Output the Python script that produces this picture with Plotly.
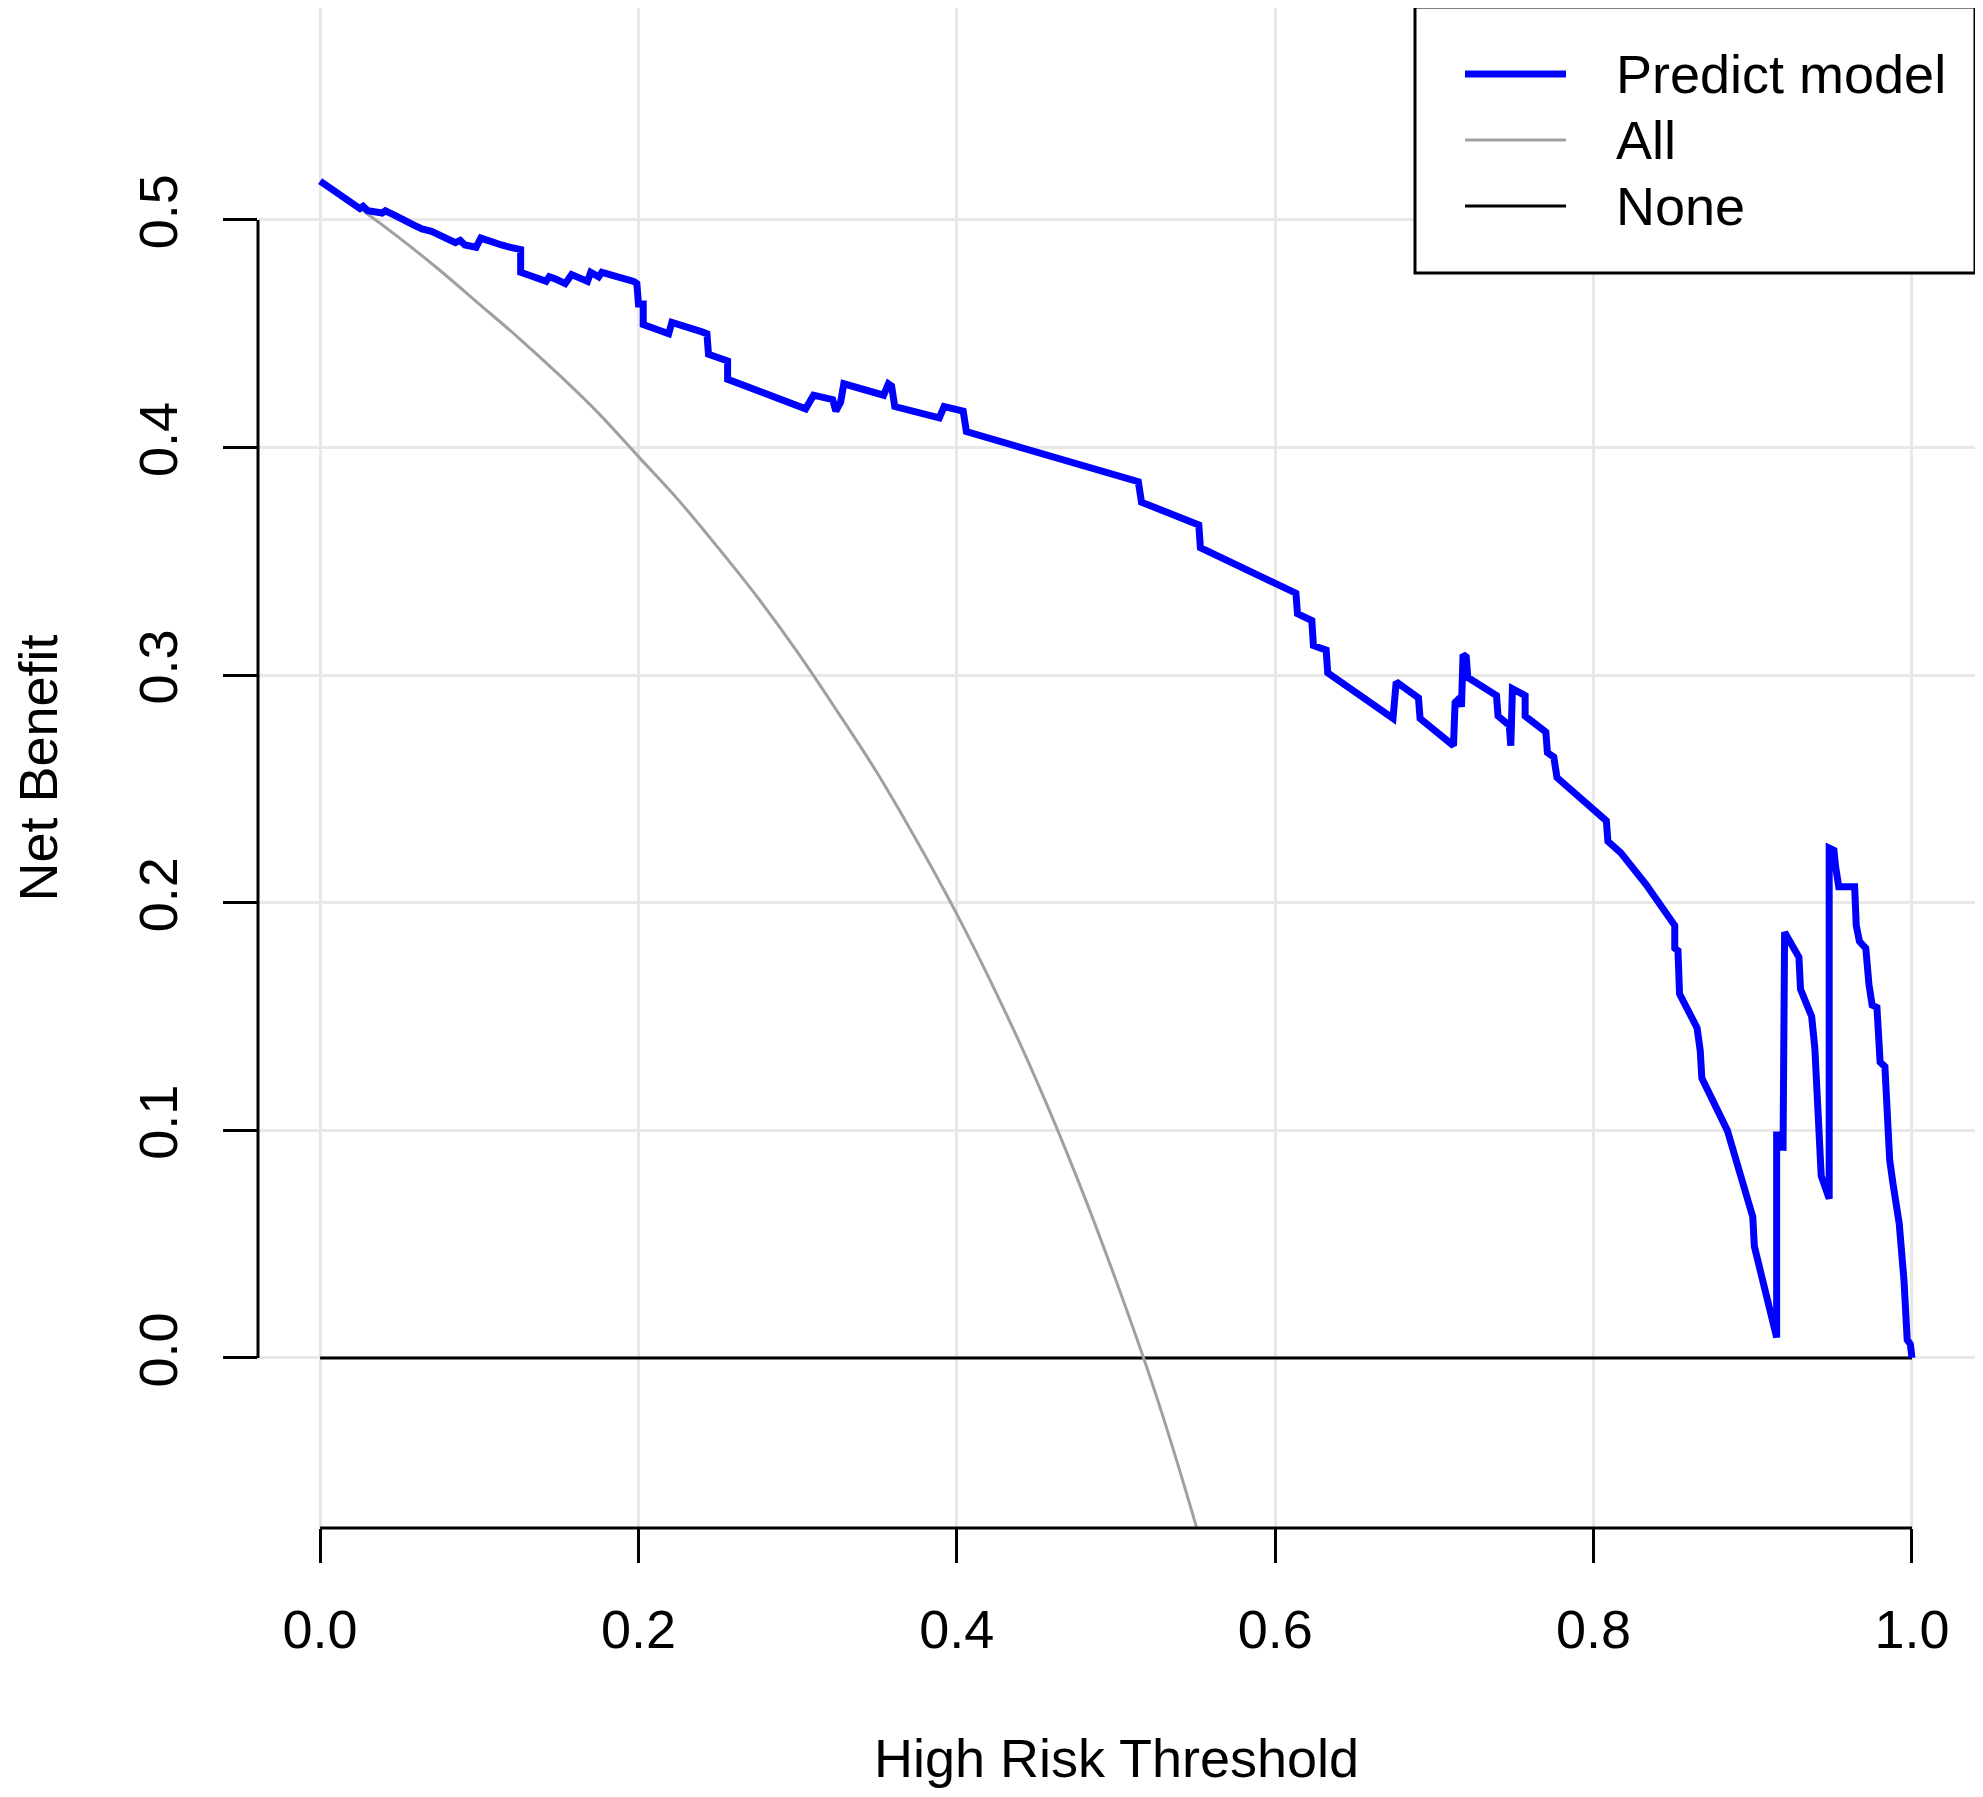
import plotly.graph_objects as go


# ==================================================
# 1. data
# ==================================================

model_threshold = [
    0.000, 0.025, 0.027, 0.030, 0.039, 0.041, 0.047, 0.058, 0.064, 0.070,
    0.085, 0.088, 0.091, 0.098, 0.101, 0.114, 0.119, 0.126, 0.126, 0.134,
    0.142, 0.144, 0.148, 0.154, 0.158, 0.168, 0.170, 0.175, 0.177, 0.197,
    0.199, 0.200, 0.203, 0.203, 0.219, 0.221, 0.239, 0.243, 0.244, 0.256,
    0.256, 0.305, 0.310, 0.322, 0.324, 0.327, 0.329, 0.354, 0.357, 0.359,
    0.361, 0.389, 0.392, 0.404, 0.406, 0.514, 0.516, 0.552, 0.553, 0.613,
    0.614, 0.623, 0.624, 0.632, 0.633, 0.674, 0.676, 0.690, 0.691, 0.712,
    0.713, 0.716, 0.717, 0.718, 0.720, 0.721, 0.739, 0.740, 0.747, 0.748,
    0.749, 0.757, 0.757, 0.770, 0.771, 0.775, 0.777, 0.808, 0.809, 0.817,
    0.833, 0.851, 0.851, 0.853, 0.854, 0.865, 0.867, 0.868, 0.884, 0.900,
    0.901, 0.915, 0.915, 0.915, 0.919, 0.919, 0.920, 0.929, 0.930, 0.937,
    0.939, 0.943, 0.948, 0.948, 0.951, 0.952, 0.954, 0.964, 0.965, 0.967,
    0.971, 0.973, 0.975, 0.978, 0.980, 0.983, 0.986, 0.988, 0.992, 0.995,
    0.997, 0.999, 1.000,
]
model_net_benefit = [
    0.517, 0.505, 0.506, 0.504, 0.503, 0.504, 0.502, 0.498, 0.496, 0.495,
    0.490, 0.491, 0.489, 0.488, 0.492, 0.489, 0.488, 0.487, 0.477, 0.475,
    0.473, 0.475, 0.474, 0.472, 0.476, 0.473, 0.477, 0.475, 0.477, 0.473,
    0.472, 0.463, 0.463, 0.454, 0.450, 0.455, 0.451, 0.450, 0.441, 0.438,
    0.430, 0.417, 0.423, 0.421, 0.416, 0.420, 0.428, 0.423, 0.428, 0.427,
    0.418, 0.413, 0.418, 0.416, 0.407, 0.385, 0.376, 0.366, 0.356, 0.336,
    0.327, 0.324, 0.313, 0.311, 0.301, 0.281, 0.297, 0.290, 0.281, 0.269,
    0.288, 0.290, 0.286, 0.309, 0.308, 0.299, 0.291, 0.282, 0.278, 0.269,
    0.294, 0.291, 0.282, 0.275, 0.266, 0.264, 0.255, 0.236, 0.227, 0.222,
    0.208, 0.190, 0.180, 0.179, 0.160, 0.145, 0.135, 0.123, 0.100, 0.062,
    0.049, 0.009, 0.053, 0.098, 0.098, 0.091, 0.187, 0.176, 0.162, 0.150,
    0.136, 0.080, 0.070, 0.224, 0.223, 0.216, 0.207, 0.207, 0.190, 0.183,
    0.180, 0.164, 0.155, 0.154, 0.130, 0.128, 0.087, 0.077, 0.059, 0.034,
    0.008, 0.006, 0.000,
]

all_threshold = [
    0.000, 0.025, 0.050, 0.075, 0.100, 0.125, 0.150, 0.175, 0.200, 0.225,
    0.250, 0.275, 0.300, 0.325, 0.350, 0.375, 0.400, 0.425, 0.450, 0.475,
    0.500, 0.525, 0.550, 0.560,
]
all_net_benefit = [
    0.517, 0.505, 0.492, 0.478, 0.463, 0.448, 0.432, 0.415, 0.396, 0.377,
    0.356, 0.334, 0.310, 0.284, 0.257, 0.227, 0.195, 0.160, 0.122, 0.080,
    0.034, -0.016, -0.073, -0.098,
]

none_threshold = [0.0, 1.0]
none_net_benefit = [0.0, 0.0]

x_ticks = [0.0, 0.2, 0.4, 0.6, 0.8, 1.0]
x_tick_labels = ["0.0", "0.2", "0.4", "0.6", "0.8", "1.0"]
y_ticks = [0.0, 0.1, 0.2, 0.3, 0.4, 0.5]
y_tick_labels = ["0.0", "0.1", "0.2", "0.3", "0.4", "0.5"]

legend_names = ["Predict model", "All", "None"]
legend_colors = ["#0000ff", "#a0a0a0", "#000000"]
legend_widths = [7, 3, 3]


# ==================================================
# 2. layout helpers (pixel -> paper)
# ==================================================

# the page body adds an 8px offset, so the figure is 8px smaller
W, H = 1975, 1789
L, R, T, B = 250, 1967, 0, 1520

FONT = "Liberation Sans, Arial, sans-serif"
FS = 54
GRID = "#e8e8e8"


def px(x):
    return (x - L) / (R - L)


def py(y):
    return (B - y) / (B - T)


# ==================================================
# 3. figure
# ==================================================

fig = go.Figure()

fig.add_trace(go.Scatter(
    x=none_threshold, y=none_net_benefit, mode="lines",
    name="None", line=dict(color="#000000", width=3), showlegend=False,
))
fig.add_trace(go.Scatter(
    x=all_threshold, y=all_net_benefit, mode="lines",
    name="All", line=dict(color="#a0a0a0", width=3, shape="spline", simplify=False),
    showlegend=False,
))
fig.add_trace(go.Scatter(
    x=model_threshold, y=model_net_benefit, mode="lines",
    name="Predict model", line=dict(color="#0000ff", width=7, simplify=False),
    showlegend=False,
))

# R style axes: lines only across the tick range
fig.add_shape(type="line", xref="paper", yref="y", x0=0, x1=0,
              y0=y_ticks[0], y1=y_ticks[-1], line=dict(color="black", width=3))
fig.add_shape(type="line", xref="x", yref="paper", x0=x_ticks[0], x1=x_ticks[-1],
              y0=0, y1=0, line=dict(color="black", width=3))

# legend box drawn by hand (R legend look)
fig.add_shape(type="rect", xref="paper", yref="paper",
              x0=px(1407), x1=px(1967), y0=py(265), y1=py(-1),
              line=dict(color="black", width=3), fillcolor="white", layer="above")
row_y = [66, 132, 198]
for name, col, lw, yy in zip(legend_names, legend_colors, legend_widths, row_y):
    fig.add_shape(type="line", xref="paper", yref="paper",
                  x0=px(1457), x1=px(1558), y0=py(yy), y1=py(yy),
                  line=dict(color=col, width=lw), layer="above")
    fig.add_annotation(text=name, xref="paper", yref="paper",
                       x=px(1606), y=py(yy), xanchor="left", yanchor="middle",
                       showarrow=False, font=dict(family=FONT, size=FS, color="black"))

axis_common = dict(
    showgrid=True, gridcolor=GRID, gridwidth=3,
    zeroline=False, showline=False,
    ticks="outside", ticklen=34, tickwidth=3, tickcolor="black",
    tickfont=dict(family=FONT, size=FS, color="black"),
)

fig.update_layout(
    width=W, height=H,
    margin=dict(l=L, r=W - R, t=T, b=H - B),
    paper_bgcolor="white", plot_bgcolor="white",
    font=dict(family=FONT, size=FS, color="black"),
    showlegend=False,
    xaxis=dict(
        range=[-0.039, 1.0396], tickvals=x_ticks, ticktext=x_tick_labels,
        title=dict(text="High Risk Threshold", font=dict(family=FONT, size=FS), standoff=81),
        ticklabelstandoff=20,
        **axis_common,
    ),
    yaxis=dict(
        range=[-0.0747, 0.5931], tickvals=y_ticks, ticktext=y_tick_labels,
        tickangle=-90,
        title=dict(text="Net Benefit", font=dict(family=FONT, size=FS), standoff=74),
        ticklabelstandoff=24,
        **axis_common,
    ),
)

fig.write_html("out.html")
